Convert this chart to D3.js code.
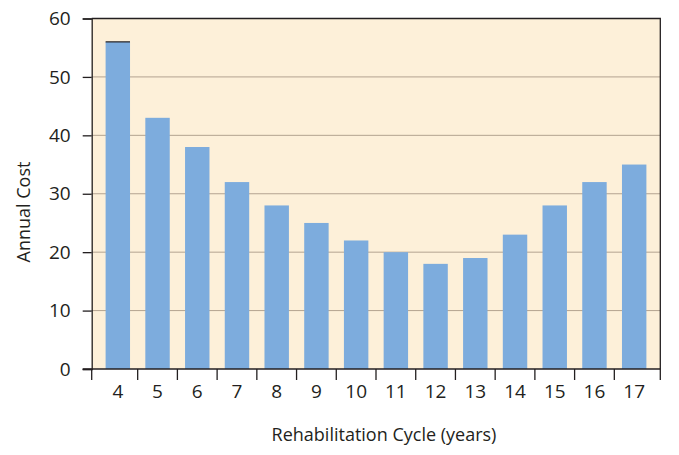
<!DOCTYPE html>
<html><head><meta charset="utf-8">
<script src="https://cdn.jsdelivr.net/npm/d3@7"></script>
<style>body{margin:0;background:#fff}svg{display:block}text{font-family:"Open Sans",sans-serif;fill:#231f20}</style>
</head><body>
<script>
const categories = ["4","5","6","7","8","9","10","11","12","13","14","15","16","17"];
const values = [56,43,38,32,28,25,22,20,18,19,23,28,32,35];
const yTicks = [0,10,20,30,40,50,60];
const yLabel = "Annual Cost";
const xLabel = "Rehabilitation Cycle (years)";

const W=679,H=455, L=91.7, R=660.3, T=18.5, B=369;
const FS=18, TFS=19;
const svg=d3.select("body").append("svg").attr("width",W).attr("height",H);
const x=d3.scaleBand().domain(categories).range([L,R]).paddingInner(0.385).paddingOuter(0.35);
const y=d3.scaleLinear().domain([0,60]).range([B,T]);

svg.append("rect").attr("x",L).attr("y",T).attr("width",R-L).attr("height",B-T).attr("fill","#fdf0d9");
svg.append("g").selectAll("line").data(yTicks.filter(d=>d>0&&d<60)).join("line")
  .attr("x1",L).attr("x2",R).attr("y1",d=>y(d)).attr("y2",d=>y(d)).attr("stroke","#b3a390").attr("stroke-width",1);
svg.append("g").selectAll("rect").data(values).join("rect")
  .attr("x",(d,i)=>x(categories[i])).attr("width",x.bandwidth())
  .attr("y",d=>y(d)).attr("height",d=>B-y(d)).attr("fill","#7dacdd");
svg.append("line").attr("x1",x(categories[0])).attr("x2",x(categories[0])+x.bandwidth())
  .attr("y1",y(values[0])).attr("y2",y(values[0])).attr("stroke","#231f20").attr("stroke-width",1.2);
svg.append("path").attr("d",`M${L},${T}H${R}V${B}`).attr("fill","none").attr("stroke","#231f20").attr("stroke-width",1.3);
const ya=svg.append("g").attr("transform",`translate(${L},0)`).call(d3.axisLeft(y).tickValues(yTicks).tickSize(9).tickPadding(12));
ya.select(".domain").attr("stroke","#231f20").attr("stroke-width",1.3);
ya.selectAll(".tick line").attr("stroke","#231f20").attr("stroke-width",1.3);
ya.selectAll(".tick text").style("font-size",TFS+"px").attr("font-family","Open Sans").attr("fill","#231f20");
svg.append("line").attr("x1",L-9).attr("x2",R).attr("y1",B).attr("y2",B).attr("stroke","#231f20").attr("stroke-width",1.3);
const step=x.step();
const bounds=[L].concat(categories.slice(1).map(c=>x(c)+x.bandwidth()/2-step/2)).concat([R]);
svg.append("g").selectAll("line").data(bounds).join("line")
  .attr("x1",d=>d).attr("x2",d=>d).attr("y1",B).attr("y2",B+11).attr("stroke","#231f20").attr("stroke-width",1.3);
svg.append("g").selectAll("text").data(categories).join("text")
  .attr("x",d=>x(d)+x.bandwidth()/2).attr("y",398).attr("text-anchor","middle").style("font-size",TFS+"px").text(d=>d);
svg.append("text").attr("x",384).attr("y",441).attr("text-anchor","middle").style("font-size",FS+"px").text(xLabel);
svg.append("text").attr("transform","translate(30,212) rotate(-90)").attr("text-anchor","middle").style("font-size",FS+"px").text(yLabel);
</script>
</body></html>
